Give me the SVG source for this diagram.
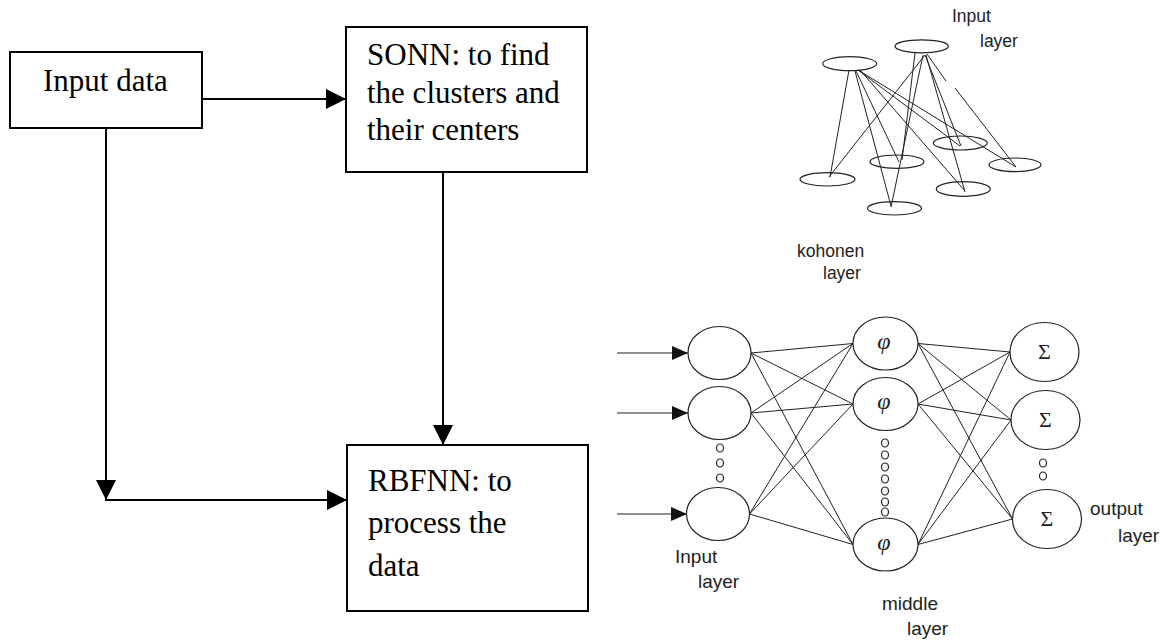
<svg xmlns="http://www.w3.org/2000/svg" width="1171" height="641" viewBox="0 0 1171 641">
<style>
.box{fill:#fff;stroke:#000;stroke-width:2}
.bt{font-family:"Liberation Serif","Times New Roman",serif;font-size:31px;fill:#000}
.con{stroke:#000;stroke-width:2;fill:none}
.nl{stroke:#222;stroke-width:1;fill:none}
.nd{fill:#fff;stroke:#222;stroke-width:1.2}
.dot{fill:#fff;stroke:#222;stroke-width:1.2}
.lb{font-family:"Liberation Sans",Arial,sans-serif;font-size:19px;fill:#222}
.lbs{font-family:"Liberation Sans",Arial,sans-serif;font-size:17.5px;fill:#222}
.phi{font-family:"Liberation Serif",serif;font-style:italic;font-size:24px;fill:#222;text-anchor:middle}
.sig{font-family:"Liberation Serif",serif;font-size:22px;fill:#222;text-anchor:middle}
</style>
<defs>
<marker id="ah" markerUnits="userSpaceOnUse" markerWidth="20" markerHeight="20" refX="20" refY="10" orient="auto">
<path d="M0,0 L20,10 L0,20 Z" fill="#000"/>
</marker>
<marker id="ahs" markerUnits="userSpaceOnUse" markerWidth="16" markerHeight="14" refX="16" refY="7" orient="auto">
<path d="M0,0 L16,7 L0,14 Z" fill="#111"/>
</marker>
</defs>

<g id="connectors">
<line class="con" x1="202" y1="99" x2="346" y2="99" marker-end="url(#ah)"/>
<line class="con" x1="106" y1="128" x2="106" y2="500" marker-end="url(#ah)"/>
<line class="con" x1="105" y1="500" x2="347" y2="500" marker-end="url(#ah)"/>
<line class="con" x1="443" y1="172" x2="443" y2="445" marker-end="url(#ah)"/>
</g>

<g id="node-input-data">
<rect class="box" x="10" y="52" width="192" height="76"/>
<text class="bt" x="43" y="91">Input data</text>
</g>
<g id="node-sonn">
<rect class="box" x="346" y="27" width="241" height="145"/>
<text class="bt" x="367" y="65">SONN: to find</text>
<text class="bt" x="367" y="103">the clusters and</text>
<text class="bt" x="367" y="140">their centers</text>
</g>
<g id="node-rbfnn">
<rect class="box" x="347" y="445" width="241" height="166"/>
<text class="bt" x="368" y="491">RBFNN: to</text>
<text class="bt" x="368" y="533">process the</text>
<text class="bt" x="368" y="576">data</text>
</g>

<g id="kohonen-net">
<g id="kohonen-links">
<line class="nl" x1="849" y1="70" x2="830" y2="177"/>
<line class="nl" x1="856" y1="71" x2="899" y2="162"/>
<line class="nl" x1="855" y1="71" x2="891" y2="206"/>
<line class="nl" x1="858" y1="70" x2="960" y2="146"/>
<line class="nl" x1="858" y1="70" x2="1016" y2="167"/>
<line class="nl" x1="860" y1="70" x2="965" y2="191"/>
<line class="nl" x1="925" y1="55" x2="829" y2="177"/>
<line class="nl" x1="915" y1="53" x2="902" y2="160"/>
<line class="nl" x1="923" y1="55" x2="891" y2="207"/>
<line class="nl" x1="925" y1="55" x2="961" y2="146"/>
<line class="nl" x1="927" y1="54" x2="946" y2="81"/>
<line class="nl" x1="955" y1="88" x2="1016" y2="167"/>
<line class="nl" x1="926" y1="55" x2="965" y2="192"/>
</g>
<ellipse id="kin1" class="nd" cx="849.7" cy="63.7" rx="27" ry="7" style="fill:none"/>
<ellipse id="kin2" class="nd" cx="921.7" cy="46.3" rx="26.7" ry="6.5" style="fill:none"/>
<ellipse id="k1" class="nd" cx="827.5" cy="179.3" rx="27.5" ry="6.7" style="fill:none"/>
<ellipse id="k2" class="nd" cx="897" cy="161.7" rx="27" ry="6.7" style="fill:none"/>
<ellipse id="k3" class="nd" cx="894.5" cy="208.3" rx="27" ry="6.7" style="fill:none"/>
<ellipse id="k4" class="nd" cx="960.3" cy="143" rx="27" ry="7" style="fill:none"/>
<ellipse id="k5" class="nd" cx="1015" cy="164.8" rx="26" ry="6.8" style="fill:none"/>
<ellipse id="k6" class="nd" cx="963.3" cy="189" rx="27" ry="7.3" style="fill:none"/>
<text class="lbs" x="952" y="22">Input</text>
<text class="lbs" x="980" y="47">layer</text>
<text class="lbs" x="797" y="257">kohonen</text>
<text class="lbs" x="823" y="279">layer</text>
</g>

<g id="rbf-net">
<g id="rbf-links">
<line class="nl" x1="617" y1="353" x2="688" y2="353" marker-end="url(#ahs)"/>
<line class="nl" x1="617" y1="413" x2="688" y2="413" marker-end="url(#ahs)"/>
<line class="nl" x1="617" y1="514" x2="687" y2="514" marker-end="url(#ahs)"/>
<line class="nl" x1="751" y1="353" x2="853" y2="343.5"/>
<line class="nl" x1="751" y1="353" x2="853" y2="404"/>
<line class="nl" x1="751" y1="353" x2="853" y2="544.5"/>
<line class="nl" x1="751" y1="413" x2="853" y2="343.5"/>
<line class="nl" x1="751" y1="413" x2="853" y2="404"/>
<line class="nl" x1="751" y1="413" x2="853" y2="544.5"/>
<line class="nl" x1="749.5" y1="514" x2="853" y2="343.5"/>
<line class="nl" x1="749.5" y1="514" x2="853" y2="404"/>
<line class="nl" x1="749.5" y1="514" x2="853" y2="544.5"/>
<line class="nl" x1="918" y1="343.5" x2="1010" y2="352"/>
<line class="nl" x1="918" y1="343.5" x2="1011" y2="420"/>
<line class="nl" x1="918" y1="343.5" x2="1012.5" y2="519"/>
<line class="nl" x1="918" y1="404" x2="1010" y2="352"/>
<line class="nl" x1="918" y1="404" x2="1011" y2="420"/>
<line class="nl" x1="918" y1="404" x2="1012.5" y2="519"/>
<line class="nl" x1="918" y1="544.5" x2="1010" y2="352"/>
<line class="nl" x1="918" y1="544.5" x2="1011" y2="420"/>
<line class="nl" x1="918" y1="544.5" x2="1012.5" y2="519"/>
</g>
<g id="in1"><ellipse class="nd" cx="719.5" cy="353" rx="31.5" ry="26.5" style="fill:none"/></g>
<g id="in2"><ellipse class="nd" cx="719.5" cy="413" rx="31.5" ry="26.5" style="fill:none"/></g>
<g id="in3"><ellipse class="nd" cx="718" cy="514" rx="31.5" ry="26.5" style="fill:none"/></g>
<ellipse class="dot" cx="720" cy="448" rx="3.5" ry="4"/>
<ellipse class="dot" cx="720" cy="463" rx="3.5" ry="4"/>
<ellipse class="dot" cx="720" cy="478" rx="3.5" ry="4"/>

<g id="mid1"><ellipse class="nd" cx="885.5" cy="343.5" rx="32.5" ry="26.5"/><text class="phi" x="884" y="349">φ</text></g>
<g id="mid2"><ellipse class="nd" cx="885.5" cy="404" rx="32.5" ry="26.5"/><text class="phi" x="884" y="409">φ</text></g>
<g id="mid3"><ellipse class="nd" cx="885.5" cy="544.5" rx="32.5" ry="26.5"/><text class="phi" x="884" y="550">φ</text></g>
<ellipse class="dot" cx="885" cy="443" rx="3.5" ry="4"/>
<ellipse class="dot" cx="885" cy="455" rx="3.5" ry="4"/>
<ellipse class="dot" cx="885" cy="467" rx="3.5" ry="4"/>
<ellipse class="dot" cx="885" cy="479" rx="3.5" ry="4"/>
<ellipse class="dot" cx="885" cy="491" rx="3.5" ry="4"/>
<ellipse class="dot" cx="885" cy="502" rx="3.5" ry="4"/>
<ellipse class="dot" cx="885" cy="512" rx="3.5" ry="4"/>

<g id="out1"><ellipse class="nd" cx="1044.5" cy="352" rx="34.5" ry="29.5"/><text class="sig" x="1044.5" y="359">Σ</text></g>
<g id="out2"><ellipse class="nd" cx="1045.5" cy="420" rx="34.5" ry="29.5"/><text class="sig" x="1045.5" y="427">Σ</text></g>
<g id="out3"><ellipse class="nd" cx="1047" cy="519" rx="34.5" ry="29.5"/><text class="sig" x="1047" y="526">Σ</text></g>
<ellipse class="dot" cx="1043" cy="463" rx="3.5" ry="4"/>
<ellipse class="dot" cx="1043" cy="476" rx="3.5" ry="4"/>

<text class="lb" x="675" y="563">Input</text>
<text class="lb" x="698" y="588">layer</text>
<text class="lb" x="882" y="610">middle</text>
<text class="lb" x="907" y="635">layer</text>
<text class="lb" x="1090" y="515">output</text>
<text class="lb" x="1118" y="542">layer</text>
</g>
</svg>
